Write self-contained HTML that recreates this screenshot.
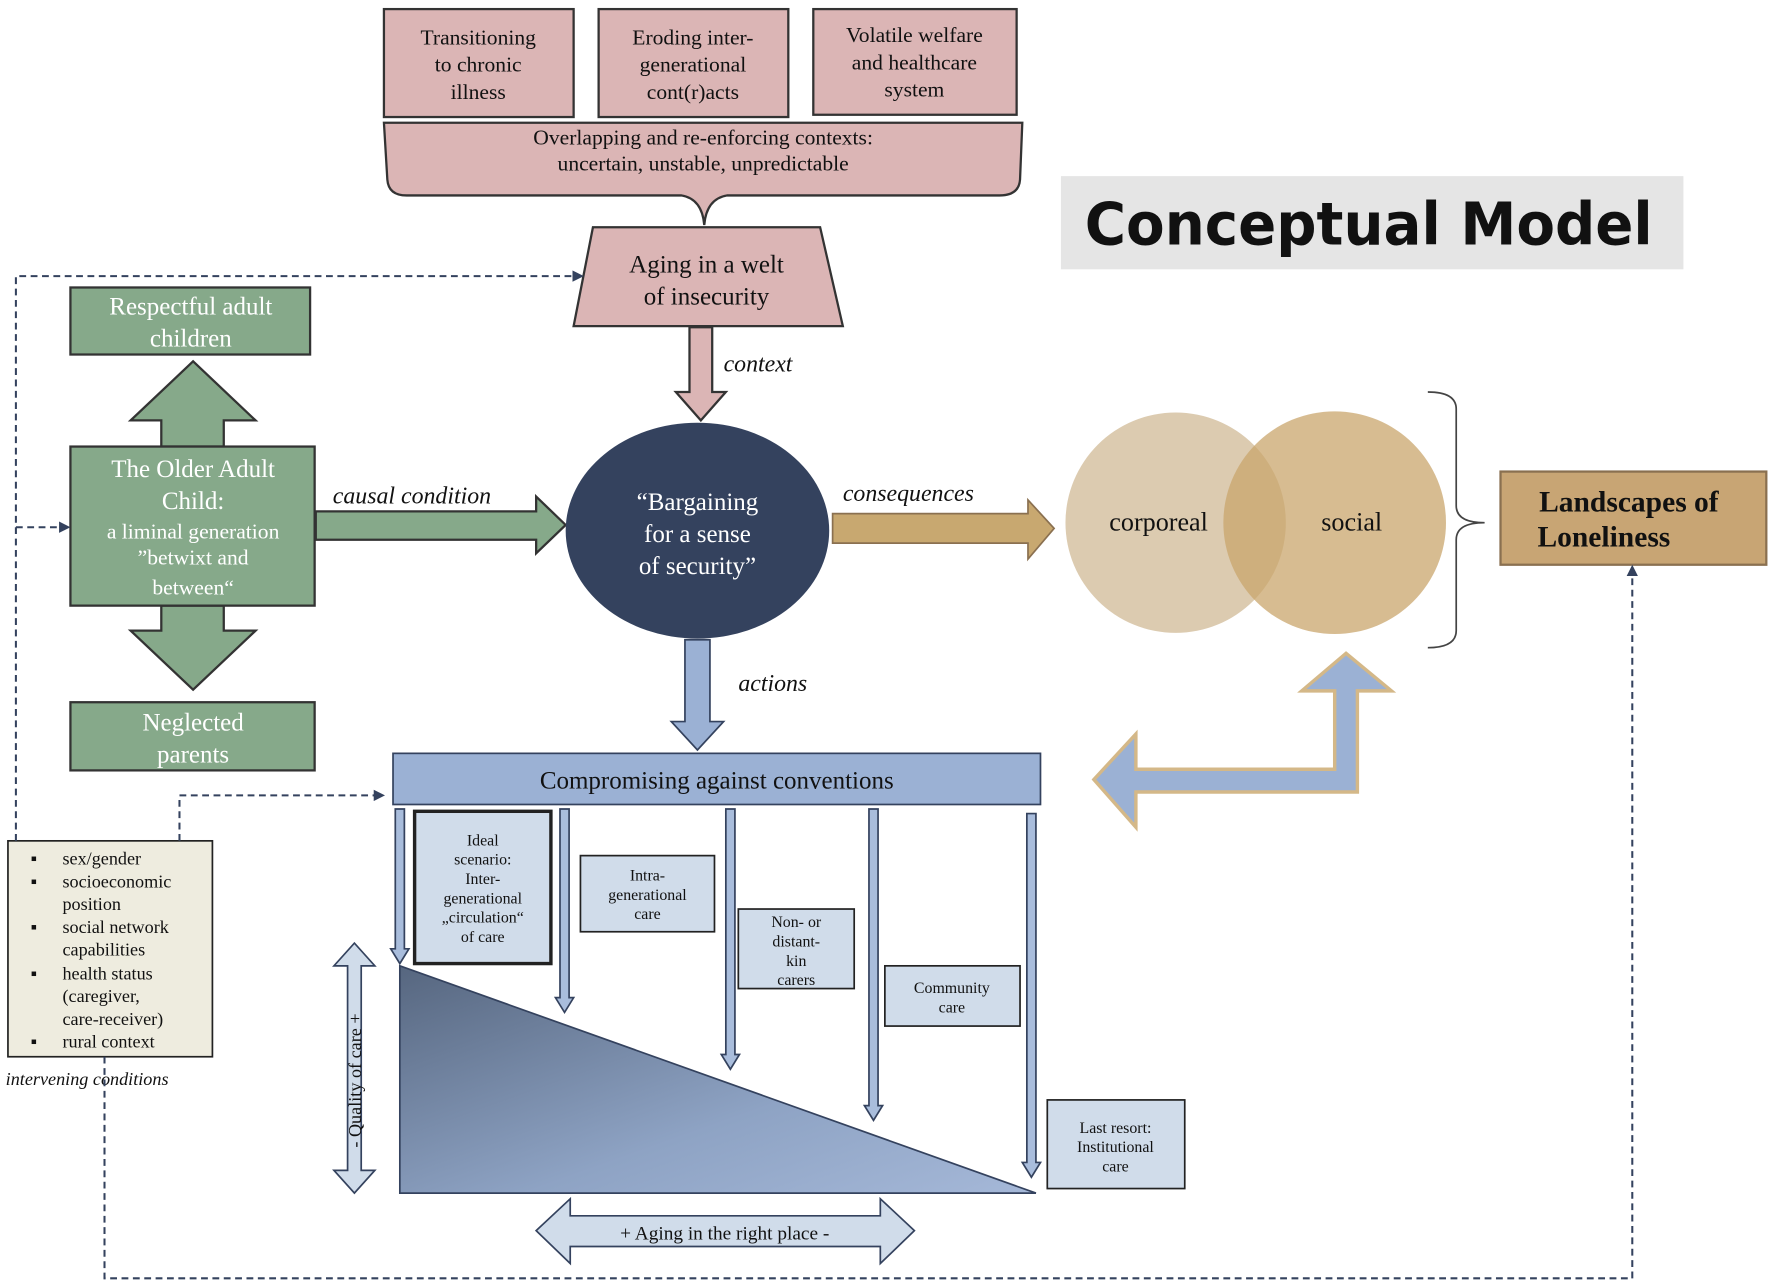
<!DOCTYPE html>
<html><head><meta charset="utf-8"><style>
html,body{margin:0;padding:0;background:#fff}
svg{display:block}
text{font-family:"Liberation Serif",serif;fill:#111}
.it{font-style:italic}
</style></head><body>
<svg width="1772" height="1284" viewBox="0 0 1560 1130" preserveAspectRatio="none" xmlns="http://www.w3.org/2000/svg">
<defs>
<linearGradient id="tg" x1="0" y1="0" x2="1" y2="1">
<stop offset="0" stop-color="#56667f"/><stop offset="0.6" stop-color="#8ea3c4"/><stop offset="1" stop-color="#a5b8d8"/></linearGradient>
<marker id="ah" markerWidth="10" markerHeight="10" refX="8" refY="5" orient="auto" markerUnits="userSpaceOnUse"><path d="M0,0 L10,5 L0,10 Z" fill="#34425e"/></marker>
</defs>
<rect width="1560" height="1130" fill="#fff"/>

<g fill="#dbb5b5" stroke="#333" stroke-width="2">
<rect x="338" y="8" width="167" height="95"/>
<rect x="527" y="8" width="167" height="95"/>
<rect x="716" y="8" width="179" height="93"/>
<path d="M338,108 L900,108 L898,158 Q897,172 880,172 L640,172 Q622,175 620,198 Q618,175 600,172 L358,172 Q342,172 341,158 Z"/>
<path d="M522,200 L722,200 L742,287 L505,287 Z"/>
<path d="M607,288 L627,288 L627,345 L639,345 L617,370 L595,345 L607,345 Z"/>
</g>
<g font-size="19" text-anchor="middle">
<text x="421" y="39">Transitioning</text><text x="421" y="63">to chronic</text><text x="421" y="87">illness</text>
<text x="610" y="39">Eroding inter-</text><text x="610" y="63">generational</text><text x="610" y="87">cont(r)acts</text>
<text x="805" y="37">Volatile welfare</text><text x="805" y="61">and healthcare</text><text x="805" y="85">system</text>
<text x="619" y="127">Overlapping and re-enforcing  contexts:</text>
<text x="619" y="150">uncertain, unstable, unpredictable</text>
</g>
<g font-size="22" text-anchor="middle"><text x="622" y="240">Aging in a welt</text><text x="622" y="268">of insecurity</text></g>
<text x="637" y="327" font-size="21" class="it">context</text>

<rect x="934" y="155" width="548" height="82" fill="#e5e5e5"/>
<text x="955" y="215" font-size="52" font-weight="bold" textLength="500" lengthAdjust="spacingAndGlyphs" style="font-family:'DejaVu Sans','Liberation Sans',sans-serif">Conceptual Model</text>

<g fill="#86a98a" stroke="#333" stroke-width="2">
<rect x="62" y="253" width="211" height="59"/>
<rect x="62" y="618" width="215" height="60"/>
<path d="M170,318 L225,370 L197,370 L197,393 L142,393 L142,370 L115,370 Z"/>
<path d="M142,533 L197,533 L197,555 L225,555 L170,607 L115,555 L142,555 Z"/>
<rect x="62" y="393" width="215" height="140"/>
<path d="M278,450 L472,450 L472,437 L498,462 L472,487 L472,475 L278,475 Z"/>
</g>
<g font-size="22" text-anchor="middle">
<text x="168" y="277" style="fill:#fff">Respectful adult</text><text x="168" y="305" style="fill:#fff">children</text>
<text x="170" y="643" style="fill:#fff">Neglected</text><text x="170" y="671" style="fill:#fff">parents</text>
<text x="170" y="420" style="fill:#fff">The Older Adult</text><text x="170" y="448" style="fill:#fff">Child:</text>
<text x="170" y="474" font-size="19" style="fill:#fff">a liminal generation</text>
<text x="170" y="497" font-size="19" style="fill:#fff">”betwixt and</text>
<text x="170" y="523" font-size="19" style="fill:#fff">between“</text>
</g>
<text x="293" y="443" font-size="21" class="it">causal condition</text>

<ellipse cx="614" cy="467" rx="116" ry="95" fill="#34425e"/>
<g font-size="22" text-anchor="middle"><text x="614" y="449" style="fill:#fff">“Bargaining</text><text x="614" y="477" style="fill:#fff">for a sense</text><text x="614" y="505" style="fill:#fff">of security”</text></g>

<path d="M733,452 L905,452 L905,440 L928,465 L905,492 L905,478 L733,478 Z" fill="#c8a870" stroke="#8a7050" stroke-width="1.5"/>
<text x="742" y="441" font-size="21" class="it">consequences</text>

<circle cx="1035" cy="460" r="97" fill="#dccbb0"/>
<circle cx="1175" cy="460" r="98" fill="#c9a56c" fill-opacity="0.75"/>
<text x="1020" y="467" font-size="23" text-anchor="middle">corporeal</text>
<text x="1190" y="467" font-size="23" text-anchor="middle">social</text>
<path d="M1257,345 Q1282,345 1282,360 L1282,445 Q1282,460 1307,460 Q1282,460 1282,475 L1282,555 Q1282,570 1257,570" fill="none" stroke="#444" stroke-width="1.5"/>

<rect x="1321" y="415" width="234" height="82" fill="#c8a574" stroke="#8a7050" stroke-width="2"/>
<g font-size="26" font-weight="bold" text-anchor="middle"><text x="1434" y="450">Landscapes of</text><text x="1412" y="481">Loneliness</text></g>

<path d="M603,563 L625,563 L625,635 L637,635 L614,660 L591,635 L603,635 Z" fill="#9bb1d4" stroke="#34425e" stroke-width="1.5"/>
<text x="650" y="608" font-size="21" class="it">actions</text>

<rect x="346" y="663" width="570" height="45" fill="#9bb1d4" stroke="#34425e" stroke-width="1.5"/>
<text x="631" y="694" font-size="22" text-anchor="middle">Compromising against conventions</text>

<path d="M1185,575 L1225,608 L1195,608 L1195,697 L1000,697 L1000,728 L963,686 L1000,646 L1000,677 L1175,677 L1175,608 L1146,608 Z" fill="#9bb1d4" stroke="#d4b888" stroke-width="3"/>

<g fill="#a9bddc" stroke="#34425e" stroke-width="1.5">
<path d="M348,712 L356,712 L356,835 L360,835 L352,848 L344,835 L348,835 Z"/>
<path d="M493,712 L501,712 L501,878 L505,878 L497,891 L489,878 L493,878 Z"/>
<path d="M639,712 L647,712 L647,928 L651,928 L643,941 L635,928 L639,928 Z"/>
<path d="M765,712 L773,712 L773,973 L777,973 L769,986 L761,973 L765,973 Z"/>
<path d="M904,716 L912,716 L912,1023 L916,1023 L908,1036 L900,1023 L904,1023 Z"/>
</g>

<polygon points="352,850 352,1050 912,1050" fill="url(#tg)" stroke="#34425e" stroke-width="1.5"/>

<g fill="#d0dcea" stroke="#222" stroke-width="1.5">
<rect x="365" y="714" width="120" height="134" stroke-width="3"/>
<rect x="511" y="753" width="118" height="67"/>
<rect x="650" y="800" width="102" height="70"/>
<rect x="779" y="850" width="119" height="53"/>
<rect x="922" y="968" width="121" height="78"/>
</g>
<g font-size="14" text-anchor="middle">
<text x="425" y="744">Ideal</text><text x="425" y="761">scenario:</text><text x="425" y="778">Inter-</text><text x="425" y="795">generational</text><text x="425" y="812">„circulation“</text><text x="425" y="829">of care</text>
<text x="570" y="775">Intra-</text><text x="570" y="792">generational</text><text x="570" y="809">care</text>
<text x="701" y="816">Non- or</text><text x="701" y="833">distant-</text><text x="701" y="850">kin</text><text x="701" y="867">carers</text>
<text x="838" y="874">Community</text><text x="838" y="891">care</text>
<text x="982" y="997">Last resort:</text><text x="982" y="1014">Institutional</text><text x="982" y="1031">care</text>
</g>

<path d="M306,850 L294,850 L312,830 L330,850 L318,850 L318,1030 L330,1030 L312,1050 L294,1030 L306,1030 Z" fill="#d0dcea" stroke="#34425e" stroke-width="1.5"/>
<text transform="translate(318,1010) rotate(-90)" font-size="16">- Quality of care +</text>

<path d="M502,1070 L775,1070 L775,1055 L805,1083 L775,1112 L775,1097 L502,1097 L502,1112 L472,1083 L502,1055 Z" fill="#d0dcea" stroke="#34425e" stroke-width="1.5"/>
<text x="638" y="1091" font-size="17" text-anchor="middle">+ Aging in the right place -</text>

<rect x="7" y="740" width="180" height="190" fill="#eeecdf" stroke="#222" stroke-width="1.5"/>
<g font-size="16">
<text x="27" y="761">▪</text><text x="55" y="761">sex/gender</text>
<text x="27" y="781">▪</text><text x="55" y="781">socioeconomic</text><text x="55" y="801">position</text>
<text x="27" y="821">▪</text><text x="55" y="821">social network</text><text x="55" y="841">capabilities</text>
<text x="27" y="862">▪</text><text x="55" y="862">health status</text><text x="55" y="882">(caregiver,</text><text x="55" y="902">care-receiver)</text>
<text x="27" y="922">▪</text><text x="55" y="922">rural context</text>
</g>
<text x="5" y="955" font-size="16" class="it">intervening conditions</text>

<g fill="none" stroke="#34425e" stroke-width="1.8" stroke-dasharray="6,4">
<path d="M14,740 L14,243 L512,243" marker-end="url(#ah)"/>
<path d="M14,464 L60,464" marker-end="url(#ah)"/>
<path d="M158,740 L158,700 L337,700" marker-end="url(#ah)"/>
<path d="M92,930 L92,1125 L1437,1125 L1437,499" marker-end="url(#ah)"/>
</g>
</svg>
</body></html>
